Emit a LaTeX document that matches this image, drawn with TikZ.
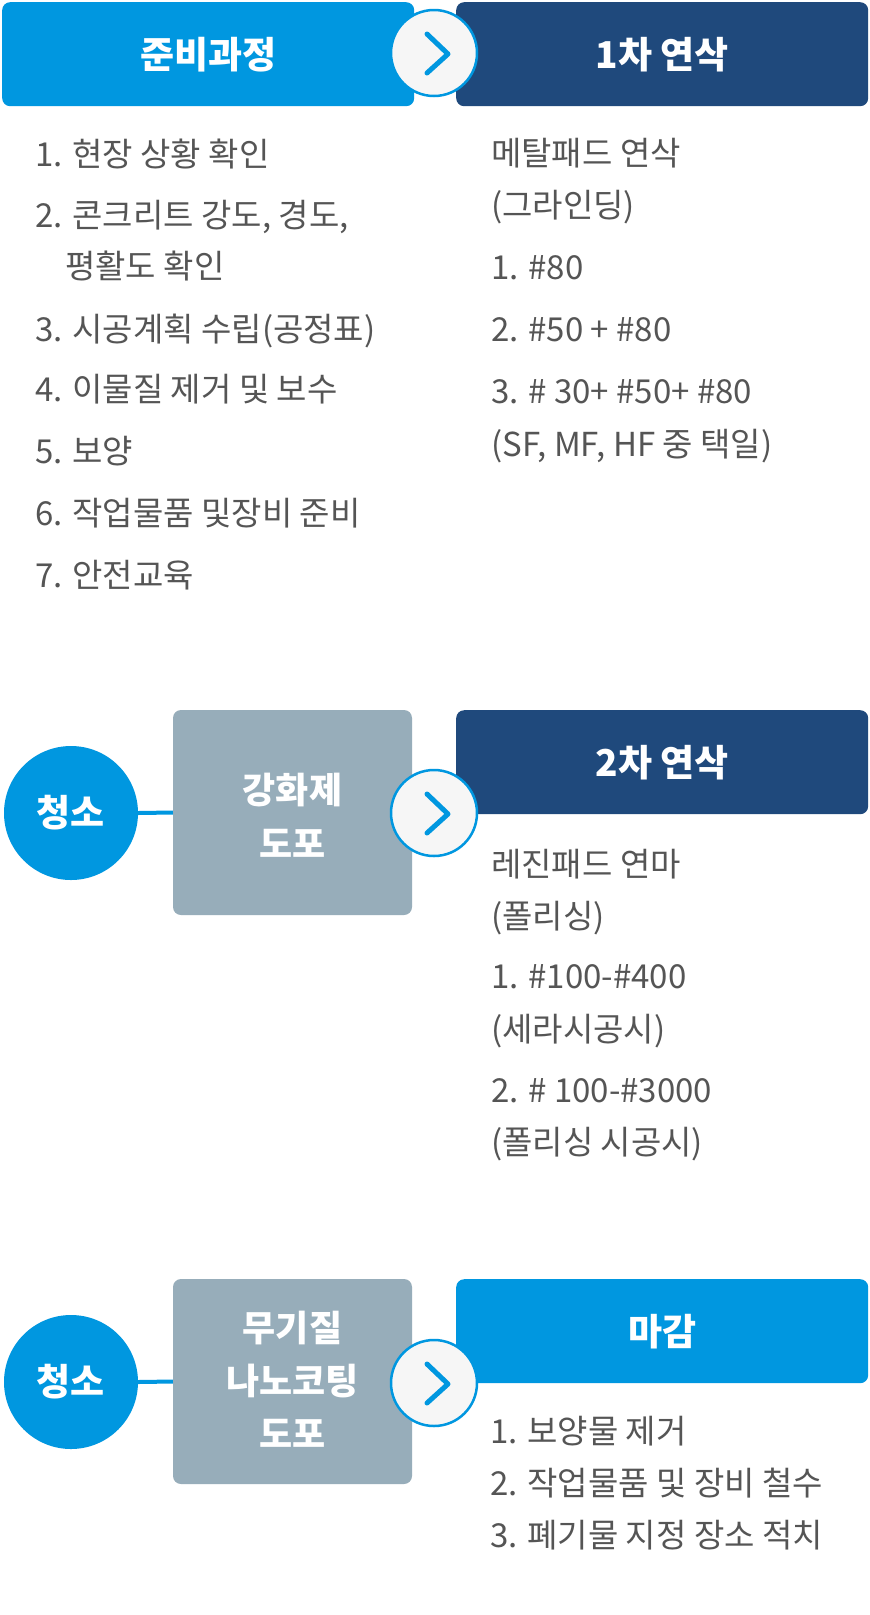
\documentclass[tikz,border=0pt]{standalone}
\usepackage{fontspec}
\setmainfont{Noto Sans CJK KR}
\definecolor{lblue}{HTML}{0097E0}
\definecolor{navy}{HTML}{1F497C}
\definecolor{grayb}{HTML}{97ADBA}
\definecolor{txt}{HTML}{555555}
\definecolor{circfill}{HTML}{F6F6F6}
\tikzset{
  hdr/.style={rounded corners=8pt, minimum width=412pt, minimum height=104pt, inner sep=0pt, anchor=north west, text=white, font=\fontsize{37}{42}\selectfont\bfseries},
  graybox/.style={rounded corners=8pt, fill=grayb, draw=none},
  graytxt/.style={text=white, font=\fontsize{36}{42}\selectfont\bfseries, inner sep=0pt, anchor=center},
  cleanc/.style={circle, fill=lblue, minimum size=134pt, inner sep=0pt, text=white, font=\fontsize{37}{42}\selectfont\bfseries},
  chev/.style={circle, fill=circfill, draw=lblue, line width=2.5pt, minimum size=86pt, inner sep=0pt},
  chevline/.style={draw=lblue, line width=5pt, line cap=round, line join=round},
  item/.style={anchor=base west, inner sep=0pt, text=txt, font=\fontsize{33}{38}\selectfont},
  link/.style={draw=lblue, line width=4pt}
}
\newcommand{\chevmark}[1]{%
  \draw[chevline] ($(#1)+(-7,-19)$) -- ($(#1)+(14,1)$) -- ($(#1)+(-7,20)$);}
\usetikzlibrary{calc}
\begin{document}
\begin{tikzpicture}[x=1pt,y=-1pt]
\useasboundingbox[fill=white] (0,0) rectangle (870,1615);

% ---- Row 1
\node[hdr, fill=lblue] (h1) at (2,2) {준비과정};
\node[hdr, fill=navy] (h2) at (456,2) {1차 연삭};
\node[chev] (c1) at (434,53) {};
\chevmark{c1}

\node[item] (a1) at (35,166) {1. 현장 상황 확인};
\node[item] (a2) at (35,227) {2. 콘크리트 강도, 경도,};
\node[item] (a2b) at (65,278) {평활도 확인};
\node[item] (a3) at (35,341) {3. 시공계획 수립(공정표)};
\node[item] (a4) at (35,401) {4. 이물질 제거 및 보수};
\node[item] (a5) at (35,463) {5. 보양};
\node[item] (a6) at (35,525) {6. 작업물품 및장비 준비};
\node[item] (a7) at (35,587) {7. 안전교육};

\node[item] (b1) at (491,165) {메탈패드 연삭};
\node[item] (b2) at (491,217) {(그라인딩)};
\node[item] (b3) at (491,279) {1. \#80};
\node[item] (b4) at (491,341) {2. \#50 + \#80};
\node[item] (b5) at (491,403) {3. \# 30+ \#50+ \#80};
\node[item] (b6) at (491,456) {(SF, MF, HF 중 택일)};

% ---- Row 2
\node[cleanc] (s1) at (71,813) {청소};
\node[graybox, minimum width=239pt, minimum height=205pt] (g1) at (292.5,812.5) {};
\node[graytxt] (g1a) at (292.5,790) {강화제};
\node[graytxt] (g1b) at (292.5,843) {도포};
\draw[link] (s1.east) -- (g1.west);
\node[hdr, fill=navy] (h3) at (456,710) {2차 연삭};
\node[chev] (c2) at (434,813) {};
\chevmark{c2}

\node[item] (d1) at (491,876) {레진패드 연마};
\node[item] (d2) at (491,928) {(폴리싱)};
\node[item] (d3) at (491,988) {1. \#100-\#400};
\node[item] (d4) at (491,1041) {(세라시공시)};
\node[item] (d5) at (491,1102) {2. \# 100-\#3000};
\node[item] (d6) at (491,1154) {(폴리싱 시공시)};

% ---- Row 3
\node[cleanc] (s2) at (71,1382) {청소};
\node[graybox, minimum width=239pt, minimum height=205pt] (g2) at (292.5,1381.5) {};
\node[graytxt] (g2a) at (292.5,1328) {무기질};
\node[graytxt] (g2b) at (292.5,1381) {나노코팅};
\node[graytxt] (g2c) at (292.5,1433) {도포};
\draw[link] (s2.east) -- (g2.west);
\node[hdr, fill=lblue] (h4) at (456,1279) {마감};
\node[chev] (c3) at (434,1383) {};
\chevmark{c3}

\node[item] (e1) at (490,1443) {1. 보양물 제거};
\node[item] (e2) at (490,1495) {2. 작업물품 및 장비 철수};
\node[item] (e3) at (490,1547) {3. 폐기물 지정 장소 적치};
\end{tikzpicture}
\end{document}
